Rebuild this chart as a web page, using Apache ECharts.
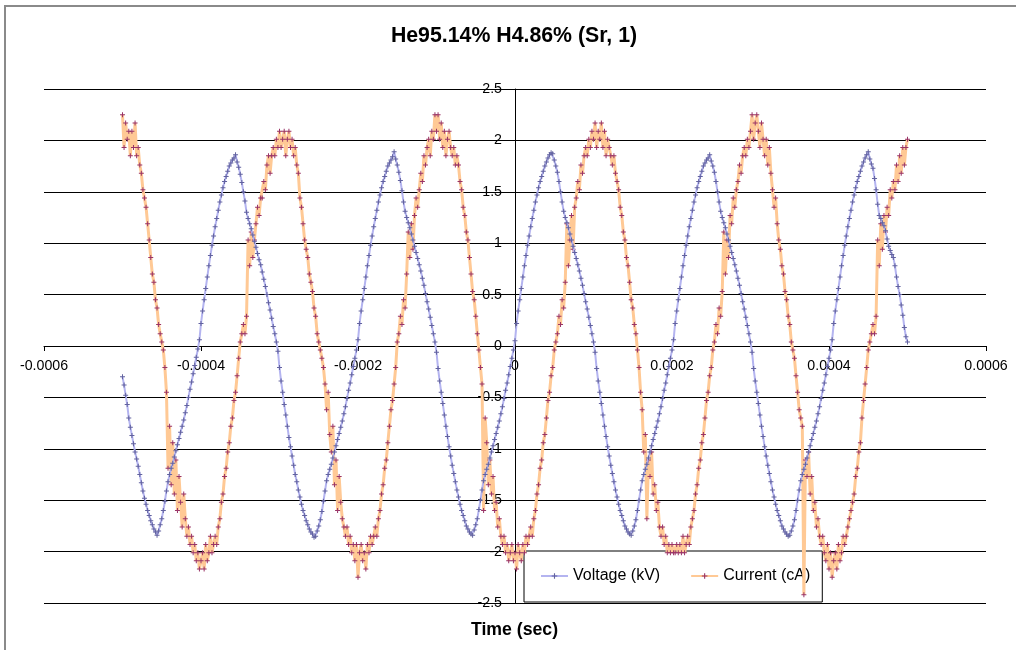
<!DOCTYPE html>
<html>
<head>
<meta charset="utf-8">
<title>He95.14% H4.86% (Sr, 1)</title>
<script src="https://cdn.jsdelivr.net/npm/echarts@6/dist/echarts.min.js"></script>
<style>
  html, body { margin: 0; padding: 0; background: #fff; }
  #chart { width: 1016px; height: 650px; }
</style>
</head>
<body>
<div id="chart"></div>
<script>
// ---- labels ----
const TITLE = 'He95.14% H4.86% (Sr, 1)';
const X_TITLE = 'Time (sec)';
const SERIES_NAMES = ['Voltage (kV)', 'Current (cA)'];
const X_TICKS = ['-0.0006', '-0.0004', '-0.0002', '0', '0.0002', '0.0004', '0.0006'];
const Y_TICKS = ['-2.5', '-2', '-1.5', '-1', '-0.5', '0', '0.5', '1', '1.5', '2', '2.5'];

// ---- sample clock (seconds): first sample and spacing ----
const T_START = -0.0005;
const T_STEP = 0.000002;

// ---- voltage, kV (one line per half cycle, extremum first) ----
const voltageKV = [
  -0.30,-0.38,-0.48,-0.57,-0.70,-0.79,-0.87,-0.95,-1.03,-1.10,-1.17,-1.25,-1.33,-1.41,-1.48,-1.54,-1.60,-1.65,-1.70,-1.74,-1.78,-1.81,
  -1.84,-1.80,-1.74,-1.68,-1.60,-1.51,-1.41,-1.32,-1.25,-1.19,-1.14,-1.08,-1.02,-0.96,-0.90,-0.84,-0.78,-0.72,-0.65,-0.58,-0.50,-0.42,-0.35,-0.27,-0.19,-0.11,-0.03,
  0.06,0.22,0.34,0.45,0.56,0.67,0.78,0.88,0.98,1.07,1.16,1.24,1.32,1.40,1.47,1.54,1.60,1.65,1.70,1.75,1.78,1.81,1.83,
  1.86,1.79,1.74,1.67,1.59,1.50,1.41,1.30,1.24,1.19,1.14,1.08,1.02,0.96,0.90,0.84,0.79,0.72,0.65,0.58,0.50,0.42,0.35,0.27,0.19,0.12,0.04,
  -0.05,-0.21,-0.34,-0.45,-0.57,-0.67,-0.78,-0.89,-0.98,-1.07,-1.16,-1.25,-1.32,-1.40,-1.47,-1.54,-1.60,-1.65,-1.70,-1.74,-1.78,-1.81,-1.83,
  -1.86,-1.85,-1.80,-1.75,-1.69,-1.61,-1.51,-1.41,-1.31,-1.25,-1.20,-1.15,-1.09,-1.03,-0.97,-0.91,-0.85,-0.79,-0.73,-0.66,-0.59,-0.51,-0.43,-0.36,-0.28,-0.20,-0.12,-0.04,
  0.06,0.22,0.34,0.45,0.56,0.67,0.78,0.88,0.98,1.07,1.16,1.24,1.32,1.40,1.47,1.54,1.60,1.65,1.70,1.75,1.78,1.81,1.84,
  1.89,1.82,1.76,1.69,1.61,1.51,1.40,1.31,1.25,1.20,1.15,1.09,1.03,0.97,0.91,0.85,0.79,0.73,0.66,0.59,0.51,0.43,0.36,0.28,0.20,0.12,0.04,
  -0.06,-0.22,-0.34,-0.45,-0.56,-0.67,-0.78,-0.88,-0.98,-1.07,-1.16,-1.24,-1.32,-1.40,-1.47,-1.54,-1.60,-1.65,-1.70,-1.75,-1.78,-1.81,-1.83,
  -1.84,-1.79,-1.74,-1.68,-1.59,-1.50,-1.40,-1.31,-1.25,-1.20,-1.15,-1.09,-1.03,-0.97,-0.91,-0.85,-0.79,-0.73,-0.66,-0.59,-0.51,-0.43,-0.36,-0.28,-0.20,-0.12,-0.04,
  0.05,0.22,0.34,0.45,0.56,0.67,0.78,0.88,0.98,1.07,1.16,1.24,1.32,1.40,1.47,1.54,1.60,1.65,1.70,1.75,1.79,1.83,1.86,
  1.88,1.87,1.81,1.75,1.69,1.60,1.50,1.40,1.31,1.25,1.20,1.15,1.09,1.03,0.97,0.91,0.85,0.79,0.73,0.66,0.59,0.51,0.43,0.36,0.28,0.20,0.12,0.04,
  -0.06,-0.22,-0.34,-0.45,-0.56,-0.67,-0.78,-0.88,-0.98,-1.07,-1.16,-1.24,-1.32,-1.40,-1.47,-1.54,-1.60,-1.65,-1.70,-1.75,-1.78,-1.81,-1.83,
  -1.84,-1.80,-1.75,-1.69,-1.60,-1.50,-1.40,-1.31,-1.25,-1.20,-1.15,-1.09,-1.03,-0.97,-0.91,-0.85,-0.79,-0.73,-0.66,-0.59,-0.51,-0.43,-0.36,-0.28,-0.20,-0.12,-0.04,
  0.06,0.22,0.34,0.45,0.56,0.67,0.78,0.88,0.98,1.07,1.16,1.24,1.32,1.40,1.47,1.54,1.60,1.65,1.70,1.75,1.78,1.81,1.83,
  1.86,1.80,1.75,1.69,1.60,1.50,1.40,1.31,1.25,1.20,1.15,1.09,1.03,0.97,0.91,0.85,0.79,0.73,0.66,0.59,0.51,0.43,0.36,0.28,0.20,0.12,0.04,
  -0.06,-0.22,-0.34,-0.45,-0.56,-0.67,-0.78,-0.88,-0.98,-1.07,-1.16,-1.24,-1.32,-1.40,-1.47,-1.54,-1.60,-1.65,-1.70,-1.75,-1.78,-1.81,-1.83,
  -1.85,-1.84,-1.80,-1.75,-1.69,-1.60,-1.50,-1.40,-1.31,-1.25,-1.20,-1.15,-1.09,-1.03,-0.97,-0.91,-0.85,-0.79,-0.73,-0.66,-0.59,-0.51,-0.43,-0.36,-0.28,-0.20,-0.12,-0.04,
  0.06,0.22,0.34,0.45,0.56,0.67,0.78,0.88,0.98,1.07,1.16,1.24,1.32,1.40,1.47,1.54,1.60,1.65,1.70,1.75,1.79,1.83,1.86,
  1.89,1.82,1.77,1.73,1.63,1.52,1.38,1.27,1.24,1.20,1.17,1.12,1.04,0.97,0.93,0.89,0.86,0.78,0.67,0.58,0.50,0.40,0.30,0.18,0.09,0.04
];

// ---- current, cA (digitised in steps of about 0.082) ----
const currentCA = [
  2.25,1.93,2.17,2.01,2.09,1.85,2.09,1.93,2.17,1.85,
  1.93,1.76,1.68,1.52,1.44,1.35,1.19,1.03,0.86,0.70,
  0.62,0.45,0.37,0.21,0.12,0.04,
  -0.04,-0.21,-0.45,-1.19,
  -0.78,-1.35,-0.94,-1.44,-1.11,-1.60,-1.27,-1.52,-1.76,-1.44,
  -1.68,-1.85,-1.76,-1.93,-1.85,-2.01,-1.93,-2.09,-2.01,-2.17,
  -2.09,-2.01,-2.17,-1.93,-2.09,-2.01,-1.85,-2.01,-1.93,-1.85,
  -1.93,-1.76,-1.68,-1.52,-1.44,-1.27,-1.19,-1.03,-0.94,-0.78,
  -0.70,-0.53,-0.45,-0.29,-0.12,
  0.04,0.12,0.21,0.12,0.29,
  1.03,0.78,1.11,0.86,1.03,1.19,1.35,1.27,1.44,1.44,
  1.60,1.52,1.76,1.85,1.68,1.85,1.93,1.85,2.01,1.93,
  2.09,1.93,2.01,2.09,1.85,2.01,2.09,1.93,2.01,1.85,
  1.93,1.76,1.68,1.44,1.35,1.19,1.03,0.94,0.86,0.70,
  0.62,0.53,0.37,0.29,0.12,0.04,
  -0.04,-0.12,-0.21,-0.37,
  -0.62,-0.45,-0.86,-1.03,-0.78,-1.35,-1.11,-1.60,-1.27,-1.52,
  -1.68,-1.76,-1.85,-1.76,-1.93,-1.85,-2.01,-1.93,-2.09,-1.93,
  -2.25,-2.01,-1.93,-2.09,-2.01,-2.17,-1.93,-2.01,-1.85,-1.93,
  -1.85,-1.76,-1.85,-1.68,-1.60,-1.44,-1.35,-1.19,-1.11,-0.94,
  -0.78,-0.62,-0.53,-0.37,-0.21,
  0.04,0.12,0.29,0.21,0.45,
  0.37,0.70,1.11,0.86,1.19,0.94,1.27,1.44,1.35,1.52,
  1.68,1.60,1.85,1.76,1.93,2.01,1.85,2.09,2.01,2.25,
  2.09,2.25,2.01,2.17,1.93,2.09,1.85,2.01,2.09,1.93,
  1.85,1.93,1.76,1.85,1.76,1.60,1.52,1.35,1.27,1.11,
  1.03,0.86,0.70,0.53,0.45,0.29,0.12,
  -0.04,-0.21,-0.37,
  -1.60,-0.70,-0.94,-1.35,-1.11,-1.44,-1.27,-1.60,-1.52,-1.76,
  -1.68,-1.85,-1.93,-1.85,-2.01,-1.93,-2.09,-2.01,-1.93,-2.09,
  -2.01,-2.17,-1.93,-2.01,-2.09,-1.93,-2.01,-1.85,-1.93,-1.85,
  -1.76,-1.85,-1.68,-1.60,-1.44,-1.35,-1.19,-1.11,-0.94,-0.86,
  -0.70,-0.53,-0.45,-0.29,-0.21,-0.04,
  0.04,0.12,0.29,0.21,
  0.45,0.37,0.62,1.19,0.78,1.03,1.27,0.94,1.35,1.44,
  1.60,1.52,1.76,1.68,1.85,1.93,1.85,2.01,1.93,2.09,
  2.01,2.17,1.93,2.09,2.01,2.17,1.93,2.09,1.85,2.01,
  1.93,1.85,1.76,1.85,1.68,1.60,1.52,1.35,1.27,1.11,
  1.03,0.86,0.78,0.62,0.45,0.37,0.21,0.12,
  -0.04,-0.21,
  -0.45,-0.62,-1.03,-0.86,-1.68,-1.11,-1.27,-1.03,-1.44,-1.35,
  -1.60,-1.52,-1.76,-1.85,-1.76,-1.93,-1.85,-2.01,-1.93,-2.01,
  -1.93,-2.01,-2.01,-1.93,-2.01,-1.93,-2.01,-1.85,-2.01,-1.93,
  -1.85,-1.93,-1.76,-1.68,-1.60,-1.44,-1.35,-1.19,-1.11,-0.94,
  -0.86,-0.70,-0.53,-0.45,-0.29,-0.21,-0.04,
  0.04,0.21,0.12,
  0.37,0.29,0.53,1.11,0.70,1.03,0.86,1.27,1.19,1.44,
  1.35,1.52,1.60,1.76,1.68,1.85,1.93,1.85,2.01,1.93,
  2.09,2.25,2.01,2.17,2.25,2.09,1.93,2.17,2.01,1.85,
  2.01,1.76,1.93,1.68,1.52,1.35,1.44,1.19,1.03,0.94,
  0.78,0.70,0.53,0.45,0.29,0.21,0.04,
  -0.04,-0.12,-0.29,
  -0.45,-0.62,-0.70,-0.78,-2.42,-1.11,-1.27,-1.03,-1.44,-1.27,
  -1.60,-1.52,-1.76,-1.68,-1.85,-1.93,-1.85,-2.01,-2.09,-1.93,
  -2.17,-2.01,-2.25,-2.09,-2.01,-2.17,-1.93,-2.09,-2.01,-1.85,
  -1.93,-1.85,-1.76,-1.68,-1.60,-1.52,-1.44,-1.27,-1.19,-1.03,
  -0.94,-0.70,-0.53,-0.37,-0.21,-0.04,
  0.04,0.12,0.21,0.12,
  0.29,1.03,0.78,1.19,0.94,1.27,1.11,1.35,1.27,1.52,
  1.44,1.60,1.52,1.76,1.60,1.85,1.68,1.93,1.76,1.93,
  2.01
];

// ---- styling ----
const FONT = '"Liberation Sans", Arial, sans-serif';
const PLUS = 'path://M2,0H3V2H5V3H3V5H2V3H0V2H2Z';
const X_MIN = -0.0006, X_MAX = 0.0006, X_INT = 0.0002;
const Y_MIN = -2.5, Y_MAX = 2.5, Y_INT = 0.5;
const GRID = { left: 44, top: 89, width: 942, height: 514 };

// axes cross at the origin: shift each axis (line, ticks and labels) onto the other's zero
const X_AXIS_SHIFT = -(GRID.height * (0 - Y_MIN) / (Y_MAX - Y_MIN));
const Y_AXIS_SHIFT = -(GRID.width * (0 - X_MIN) / (X_MAX - X_MIN));

function toPoints(values) {
  return values.map((v, i) => [T_START + i * T_STEP, v]);
}

const chart = echarts.init(document.getElementById('chart'), null, { renderer: 'canvas' });

chart.setOption({
  animation: false,
  backgroundColor: '#fff',
  grid: Object.assign({ containLabel: false }, GRID),
  xAxis: {
    type: 'value', min: X_MIN, max: X_MAX, interval: X_INT,
    position: 'bottom', offset: X_AXIS_SHIFT,
    axisLine: { show: true, onZero: false, lineStyle: { color: '#000', width: 1 } },
    axisTick: { show: true, length: 5, lineStyle: { color: '#000', width: 1 } },
    axisLabel: {
      margin: 13, fontFamily: FONT, fontSize: 14.2, color: '#000',
      formatter: v => X_TICKS[Math.round((v - X_MIN) / X_INT)]
    },
    splitLine: { show: false }
  },
  yAxis: {
    type: 'value', min: Y_MIN, max: Y_MAX, interval: Y_INT,
    position: 'left', offset: Y_AXIS_SHIFT,
    axisLine: { show: true, onZero: false, lineStyle: { color: '#000', width: 1 } },
    axisTick: { show: false },
    axisLabel: {
      margin: 13, fontFamily: FONT, fontSize: 14.2, color: '#000',
      formatter: v => Y_TICKS[Math.round((v - Y_MIN) / Y_INT)]
    },
    splitLine: { show: true, lineStyle: { color: '#000', width: 1 } }
  },
  legend: {
    data: SERIES_NAMES,
    left: 524, top: 551,
    padding: [16, 12, 17, 16],
    itemWidth: 27, itemHeight: 7, itemGap: 30,
    backgroundColor: '#fff', borderColor: '#000', borderWidth: 1,
    textStyle: { fontFamily: FONT, fontSize: 16, color: '#000', lineHeight: 18 },
    selectedMode: false,
    z: 1
  },
  graphic: [
    {
      type: 'polyline', silent: true,
      shape: { points: [[5, 650], [5, 6], [1016, 6]] },
      style: { stroke: '#8a8a8a', lineWidth: 2, fill: null }
    },
    {
      type: 'text', silent: true, x: 514, y: 36,
      style: {
        text: TITLE, font: 'bold 21.3px ' + FONT, fill: '#000',
        textAlign: 'center', align: 'center', textVerticalAlign: 'middle', verticalAlign: 'middle'
      }
    },
    {
      type: 'text', silent: true, x: 514.5, y: 630,
      style: {
        text: X_TITLE, font: 'bold 17.7px ' + FONT, fill: '#000',
        textAlign: 'center', align: 'center', textVerticalAlign: 'middle', verticalAlign: 'middle'
      }
    }
  ],
  series: [
    {
      name: SERIES_NAMES[1], type: 'line', z: 2,
      data: toPoints(currentCA),
      symbol: PLUS, symbolSize: 5, showSymbol: true,
      lineStyle: { color: '#ffc995', width: 3 },
      itemStyle: { color: '#993366' },
      emphasis: { disabled: true }, silent: true
    },
    {
      name: SERIES_NAMES[0], type: 'line', z: 3,
      data: toPoints(voltageKV),
      symbol: PLUS, symbolSize: 5, showSymbol: true,
      lineStyle: { color: '#b4b4f0', width: 2 },
      itemStyle: { color: '#62629f' },
      emphasis: { disabled: true }, silent: true
    }
  ]
});
</script>
</body>
</html>
